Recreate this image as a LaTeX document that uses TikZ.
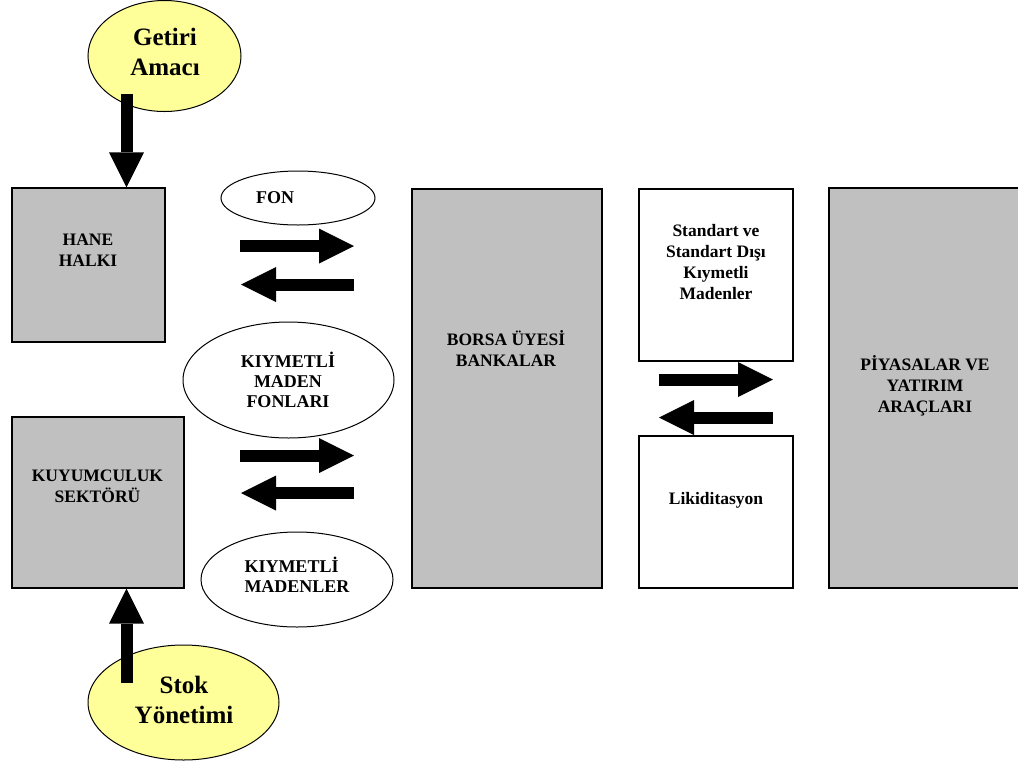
\documentclass[tikz,border=0pt]{standalone}
\usepackage{fontspec}
\setmainfont{Liberation Serif}
\usetikzlibrary{shapes.geometric,arrows.meta}
\definecolor{boxgray}{HTML}{C0C0C0}
\definecolor{paleyellow}{HTML}{FFFF99}
\begin{document}
\begin{tikzpicture}[x=1pt,y=-1pt,
  box/.style={draw=black, line width=1.3pt, fill=boxgray, inner sep=0pt},
  wbox/.style={box, fill=white},
  oval/.style={ellipse, draw=black, line width=1pt, fill=white, inner sep=0pt},
  yoval/.style={oval, fill=paleyellow},
  txt/.style={font=\bfseries\fontsize{17.5}{21}\selectfont, align=center, inner sep=0pt},
  otxt/.style={font=\bfseries\fontsize{18}{20}\selectfont, align=center, inner sep=0pt},
  ytxt/.style={font=\bfseries\fontsize{25}{30}\selectfont, align=center, inner sep=0pt},
  blockarrow/.style={line width=12pt, -{Triangle[length=35pt,width=35pt,line width=0pt]}},
]
\useasboundingbox (0,0) rectangle (1018,764);
\fill[white] (0,0) rectangle (1018,764);

% boxes
\node[box, minimum width=153pt, minimum height=154pt] (hane) at (88.5,265) {};
\node[box, minimum width=172pt, minimum height=171pt] (kuyum) at (98,502.5) {};
\node[box, minimum width=190pt, minimum height=399pt] (borsa) at (507,388.5) {};
\node[wbox, minimum width=154pt, minimum height=172pt] (std) at (716,275) {};
\node[wbox, minimum width=154pt, minimum height=152pt] (likid) at (716,512) {};
\node[box, minimum width=193pt, minimum height=400pt] (piyasa) at (925.5,388) {};

% box texts
\node[txt] (haneT) at (88,250) {HANE\\HALKI};
\node[txt] (kuyumT) at (97.5,486) {KUYUMCULUK\\SEKTÖRÜ};
\node[txt] (borsaT) at (506,348.5) {BORSA ÜYESİ\\BANKALAR};
\node[txt] (stdT) at (716,262) {Standart ve\\Standart Dışı\\Kıymetli\\Madenler};
\node[txt] (likidT) at (716,500) {Likiditasyon};
\node[txt] (piyasaT) at (925,385.5) {PİYASALAR VE\\YATIRIM\\ARAÇLARI};

% ellipses
\node[yoval, minimum width=153pt, minimum height=111pt] (getiri) at (164.5,56) {};
\node[ytxt] (getiriT) at (165,52) {Getiri\\Amacı};
\node[oval, minimum width=154pt, minimum height=54pt] (fon) at (298,198) {};
\node[otxt] (fonT) at (275,197.5) {FON};
\node[oval, minimum width=211pt, minimum height=116pt] (kmf) at (288.5,380) {};
\node[otxt] (kmfT) at (288,380) {KIYMETLİ\\MADEN\\FONLARI};
\node[oval, minimum width=192pt, minimum height=95pt] (km) at (297,579.5) {};
\node[otxt, align=left] (kmT) at (297,575) {KIYMETLİ\\MADENLER};
\node[yoval, minimum width=191pt, minimum height=115pt] (stok) at (183.5,702.5) {};
\node[ytxt] (stokT) at (184,700) {Stok\\Yönetimi};

% vertical block arrows
\coordinate (gs) at (126.5,94);
\draw[blockarrow] (gs) -- (gs |- hane.north);
\coordinate (ss) at (126.5,683);
\draw[blockarrow] (ss) -- (ss |- kuyum.south);

% horizontal block arrows
\coordinate (r1s) at (240,246);   \coordinate (r1e) at (354,246);
\coordinate (l1s) at (354,284.5); \coordinate (l1e) at (241,284.5);
\coordinate (r2s) at (240,455.5); \coordinate (r2e) at (354,455.5);
\coordinate (l2s) at (354,493);   \coordinate (l2e) at (241,493);
\coordinate (r3s) at (659,379.5); \coordinate (r3e) at (773,379.5);
\coordinate (l3s) at (773,417.5); \coordinate (l3e) at (659,417.5);
\draw[blockarrow] (r1s) -- (r1e);
\draw[blockarrow] (l1s) -- (l1e);
\draw[blockarrow] (r2s) -- (r2e);
\draw[blockarrow] (l2s) -- (l2e);
\draw[blockarrow] (r3s) -- (r3e);
\draw[blockarrow] (l3s) -- (l3e);
\end{tikzpicture}
\end{document}
